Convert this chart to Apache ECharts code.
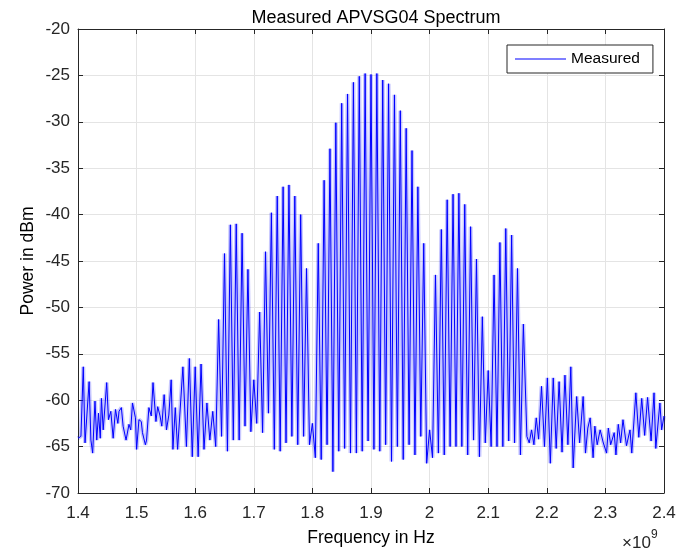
<!DOCTYPE html>
<html>
<head>
<meta charset="utf-8">
<script src="https://cdn.jsdelivr.net/npm/echarts@6/dist/echarts.min.js"></script>
<style>
  html, body { margin: 0; padding: 0; background: #fff; }
  #chart { width: 676px; height: 552px; }
</style>
</head>
<body>
<div id="chart"></div>
<script>
// Spectrum trace: frequency in GHz (axis is scaled by 10^9), power in dBm.
// Lower noise floor, 1.40 - 1.57 GHz
const floorLowFreq = [1.400, 1.405, 1.409, 1.412, 1.419, 1.422, 1.425, 1.429, 1.432, 1.435, 1.438, 1.440, 1.443, 1.449, 1.452, 1.456, 1.460, 1.464, 1.468, 1.470, 1.474, 1.477, 1.482, 1.487, 1.490, 1.493, 1.498, 1.500, 1.504, 1.508, 1.510, 1.515, 1.517, 1.521, 1.525, 1.528, 1.533, 1.536, 1.540, 1.543, 1.547, 1.551, 1.555, 1.559, 1.562, 1.566, 1.570];
const floorLowPower = [-64.1, -63.9, -56.4, -64.6, -58.0, -64.3, -65.7, -60.1, -64.3, -61.4, -64.1, -59.8, -63.2, -58.1, -62.1, -61.2, -64.1, -61.0, -62.5, -61.2, -60.8, -62.8, -64.3, -62.6, -63.2, -60.3, -61.9, -65.3, -62.1, -62.3, -63.5, -64.8, -64.3, -60.8, -61.7, -58.1, -62.3, -60.7, -61.7, -62.8, -59.4, -63.2, -61.6, -57.8, -65.3, -60.8, -65.3];

// Comb lines, 10 MHz spacing, with the dips between them, 1.58 - 2.17 GHz
const combFreq = [1.579, 1.585, 1.590, 1.595, 1.600, 1.605, 1.610, 1.615, 1.620, 1.625, 1.630, 1.635, 1.640, 1.645, 1.650, 1.655, 1.660, 1.665, 1.670, 1.675, 1.680, 1.685, 1.690, 1.695, 1.700, 1.705, 1.710, 1.715, 1.720, 1.725, 1.730, 1.735, 1.740, 1.745, 1.750, 1.755, 1.760, 1.765, 1.770, 1.775, 1.780, 1.785, 1.790, 1.795, 1.800, 1.805, 1.810, 1.815, 1.820, 1.825, 1.830, 1.835, 1.840, 1.845, 1.850, 1.855, 1.860, 1.865, 1.870, 1.875, 1.880, 1.885, 1.890, 1.895, 1.900, 1.905, 1.910, 1.915, 1.920, 1.925, 1.930, 1.935, 1.940, 1.945, 1.950, 1.955, 1.960, 1.965, 1.970, 1.975, 1.980, 1.985, 1.990, 1.995, 2.000, 2.005, 2.010, 2.015, 2.020, 2.025, 2.030, 2.035, 2.040, 2.045, 2.050, 2.055, 2.060, 2.065, 2.070, 2.075, 2.080, 2.085, 2.090, 2.095, 2.100, 2.105, 2.110, 2.115, 2.120, 2.125, 2.130, 2.135, 2.140, 2.145, 2.150, 2.155, 2.160, 2.166];
const combPower = [-56.4, -65.0, -55.5, -66.1, -56.4, -66.1, -56.1, -65.3, -60.3, -64.3, -61.2, -65.0, -51.3, -63.9, -44.2, -65.5, -41.1, -64.3, -41.0, -64.3, -42.0, -62.8, -45.9, -63.4, -57.8, -62.5, -50.5, -63.5, -44.0, -61.4, -39.8, -65.3, -38.0, -65.5, -37.0, -64.6, -36.8, -63.9, -38.0, -64.8, -40.0, -63.9, -45.8, -64.8, -62.5, -66.2, -43.1, -66.4, -36.3, -64.8, -32.9, -67.7, -30.1, -65.5, -28.0, -65.2, -27.0, -65.7, -25.75, -65.7, -25.1, -65.5, -24.8, -64.4, -24.9, -65.3, -24.8, -65.5, -25.5, -64.8, -25.9, -66.6, -27.1, -65.0, -28.8, -66.4, -30.7, -64.8, -33.1, -65.9, -37.0, -63.9, -43.1, -66.8, -63.2, -66.2, -46.5, -65.7, -41.6, -65.9, -38.4, -65.0, -37.8, -65.0, -37.7, -65.0, -38.9, -65.9, -41.3, -64.3, -44.8, -66.1, -51.0, -64.6, -56.8, -65.0, -46.5, -65.0, -43.0, -65.0, -41.5, -64.4, -42.2, -64.6, -45.8, -65.9, -51.8, -63.9];

// Upper noise floor, 2.17 - 2.40 GHz
const floorHighFreq = [2.170, 2.174, 2.178, 2.182, 2.186, 2.191, 2.196, 2.201, 2.206, 2.211, 2.216, 2.221, 2.226, 2.231, 2.236, 2.241, 2.245, 2.251, 2.256, 2.262, 2.266, 2.270, 2.274, 2.279, 2.282, 2.286, 2.291, 2.296, 2.302, 2.305, 2.309, 2.315, 2.318, 2.322, 2.326, 2.330, 2.336, 2.342, 2.345, 2.352, 2.357, 2.362, 2.367, 2.372, 2.378, 2.383, 2.386, 2.393, 2.396, 2.400];
const floorHighPower = [-64.6, -63.2, -64.8, -61.9, -64.2, -58.5, -65.0, -57.6, -66.8, -57.6, -65.2, -58.0, -65.6, -57.3, -64.8, -56.4, -67.3, -59.6, -64.6, -59.6, -65.7, -63.0, -61.9, -66.2, -62.8, -64.8, -63.2, -64.5, -65.7, -63.0, -64.8, -63.5, -65.9, -62.6, -64.6, -62.1, -64.9, -63.2, -65.7, -59.2, -64.0, -59.8, -63.8, -59.7, -64.4, -59.2, -65.2, -60.3, -63.2, -61.7];

// Axis ticks
const xTicks = [1.4, 1.5, 1.6, 1.7, 1.8, 1.9, 2.0, 2.1, 2.2, 2.3, 2.4];
const yTicks = [-70, -65, -60, -55, -50, -45, -40, -35, -30, -25, -20];

const freq = floorLowFreq.concat(combFreq, floorHighFreq);
const power = floorLowPower.concat(combPower, floorHighPower);
const trace = freq.map((f, i) => [f, power[i]]);

const FONT = '"Liberation Sans", Arial, Helvetica, sans-serif';
const INK = '#262626';
const GRID = '#e4e4e4';
const BLUE = '#0000ff';

const chart = echarts.init(document.getElementById('chart'), null, { renderer: 'canvas' });

const tickLabel = v => String(Math.round(v * 10) / 10);

const boxAxis = (extra) => Object.assign({
  axisLine: { show: true, onZero: false, lineStyle: { color: INK, width: 1 } },
  axisTick: { show: true, inside: true, length: 5, lineStyle: { color: INK } },
  axisLabel: { show: false },
  splitLine: { show: false }
}, extra);

chart.setOption({
  animation: false,
  backgroundColor: '#ffffff',
  title: {
    text: 'Measured APVSG04 Spectrum',
    left: 371, top: 4, textAlign: 'center',
    textStyle: { fontFamily: FONT, fontSize: 18, fontWeight: 'normal', color: '#000' }
  },
  legend: {
    data: [{ name: 'Measured', icon: 'rect' }],
    left: 507, top: 45,
    itemWidth: 51, itemHeight: 1.2,
    padding: [6, 13, 6, 8],
    borderColor: INK, borderWidth: 1,
    backgroundColor: '#fff',
    textStyle: { fontFamily: FONT, fontSize: 15.5, color: '#000' }
  },
  grid: { left: 78, top: 29, width: 586, height: 464, containLabel: false, outerBoundsMode: 'none' },
  xAxis: [boxAxis({
    type: 'value', min: 1.4, max: 2.4, interval: 0.1,
    position: 'bottom',
    name: 'Frequency in Hz', nameLocation: 'middle', nameGap: 36, nameMoveOverlap: false,
    nameTextStyle: { fontFamily: FONT, fontSize: 17.5, color: '#000' },
    axisLabel: { show: true, fontFamily: FONT, fontSize: 17, color: INK, margin: 12, formatter: tickLabel },
    splitLine: { show: true, lineStyle: { color: GRID, width: 1 } }
  }), boxAxis({
    type: 'value', min: 1.4, max: 2.4, interval: 0.1,
    position: 'top'
  })],
  yAxis: [boxAxis({
    type: 'value', min: -70, max: -20, interval: 5,
    position: 'left',
    name: 'Power in dBm', nameLocation: 'middle', nameGap: 41, nameRotate: 90, nameMoveOverlap: false,
    nameTextStyle: { fontFamily: FONT, fontSize: 17.5, color: '#000' },
    axisLabel: { show: true, fontFamily: FONT, fontSize: 17, color: INK, margin: 8 },
    splitLine: { show: true, lineStyle: { color: GRID, width: 1 } }
  }), boxAxis({
    type: 'value', min: -70, max: -20, interval: 5,
    position: 'right'
  })],
  series: [{
    // soft underlay that gives the dense trace its light-blue body
    type: 'line',
    data: trace,
    showSymbol: false,
    symbol: 'none',
    silent: true,
    lineStyle: { color: 'rgba(0,0,255,0.22)', width: 4 },
    xAxisIndex: 0, yAxisIndex: 0,
    z: 1
  }, {
    name: 'Measured',
    type: 'line',
    data: trace,
    showSymbol: false,
    symbol: 'none',
    color: BLUE,
    lineStyle: { color: BLUE, width: 1 },
    xAxisIndex: 0, yAxisIndex: 0,
    z: 2
  }],
  graphic: [
    { type: 'text', left: 622, top: 535, style: { text: '\u00d710', font: '17px ' + FONT, fill: INK } },
    { type: 'text', left: 651, top: 529, style: { text: '9', font: '12px ' + FONT, fill: INK } }
  ]
});
</script>
</body>
</html>
